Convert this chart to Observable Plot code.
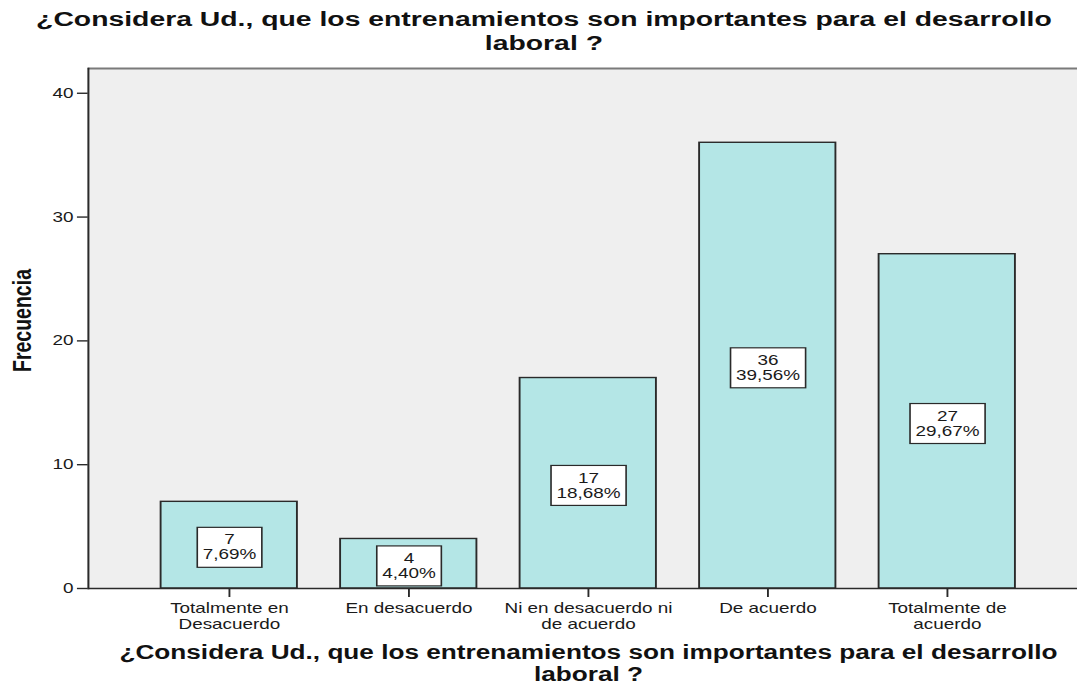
<!DOCTYPE html>
<html>
<head>
<meta charset="utf-8">
<script src="https://cdn.jsdelivr.net/npm/d3@7"></script>
<script src="https://cdn.jsdelivr.net/npm/@observablehq/plot@0.6"></script>
<style>
  html, body { margin: 0; padding: 0; background: #ffffff; }
  #chart svg { display: block; }
</style>
</head>
<body>
<div id="chart"></div>
<script>
// ---- data ----
const categories = [
  "Totalmente en\nDesacuerdo",
  "En desacuerdo",
  "Ni en desacuerdo ni\nde acuerdo",
  "De acuerdo",
  "Totalmente de\nacuerdo"
];
const counts = [7, 4, 17, 36, 27];
const percents = ["7,69%", "4,40%", "18,68%", "39,56%", "29,67%"];
const yTicks = [0, 10, 20, 30, 40];
const titleText = "¿Considera Ud., que los entrenamientos son importantes para el desarrollo\nlaboral ?";
const xTitleText = "¿Considera Ud., que los entrenamientos son importantes para el desarrollo\nlaboral ?";
const yTitleText = "Frecuencia";

const rows = categories.map((c, i) => ({cat: c, n: counts[i], pct: percents[i]}));

// The reference is horizontally stretched; draw narrower and stretch the SVG.
const W = 1077, H = 686, S = 1.35;
const W0 = Math.round(W / S);
const FONT = "'Liberation Sans', Arial, Helvetica, sans-serif";

const svg = Plot.plot({
  width: W0,
  height: H,
  marginTop: 68,
  marginBottom: 98,
  marginLeft: 65,
  marginRight: 0,
  style: {fontFamily: FONT, fontSize: "14px", color: "#1a1a1a", background: "#ffffff", overflow: "visible"},
  x: {domain: categories, range: [65, 805], paddingInner: 0.2435, paddingOuter: 0.4, align: 0.5, axis: null},
  y: {domain: [0, 42], axis: null},
  marks: [
    Plot.frame({fill: "#efefef", stroke: null}),
    Plot.ruleY([42], {stroke: "#7a7a7a", strokeWidth: 2}),
    Plot.frame({anchor: "left", stroke: "#2a2a2a", strokeWidth: 1.5}),
    Plot.barY(rows, {x: "cat", y: "n", fill: "#b4e6e6", stroke: "#2a2a2a", strokeWidth: 1.4}),
    Plot.ruleY([0], {stroke: "#2a2a2a", strokeWidth: 1.5}),
    Plot.axisY({ticks: yTicks, tickSize: 8, tickPadding: 3, label: null, fontSize: 14, stroke: "#2a2a2a", fill: "#1a1a1a", strokeWidth: 1.4}),
    Plot.axisX({tickSize: 9, tickPadding: 5, label: null, fontSize: 14, lineHeight: 1.1, stroke: "#2a2a2a", fill: "#1a1a1a", strokeWidth: 1.4}),
    Plot.text(rows, {
      x: "cat", y: d => d.n / 2,
      text: d => `${d.n}\n${d.pct}`,
      fontSize: 14, lineHeight: 1.07, lineAnchor: "middle", dy: 2, fill: "#1a1a1a"
    }),
    Plot.text([titleText], {
      frameAnchor: "top", text: d => d, textAnchor: "middle", lineAnchor: "bottom",
      dx: -29, dy: -19, fontSize: 21, fontWeight: "bold", lineHeight: 1.12, fill: "#111"
    }),
    Plot.text([xTitleText], {
      frameAnchor: "bottom", text: d => d, textAnchor: "middle", lineAnchor: "bottom",
      dx: 4, dy: 92, fontSize: 19.4, fontWeight: "bold", lineHeight: 1.12, fill: "#111"
    }),
    Plot.text([yTitleText], {
      frameAnchor: "left", text: d => d, textAnchor: "middle", lineAnchor: "middle",
      rotate: -90, dx: -49, dy: -8, fontSize: 19.5, fontWeight: "bold", fill: "#111"
    })
  ]
});

// stretch horizontally
svg.setAttribute("viewBox", `0 0 ${W0} ${H}`);
svg.setAttribute("width", W);
svg.setAttribute("height", H);
svg.setAttribute("preserveAspectRatio", "none");
svg.style.width = W + "px";
svg.style.height = H + "px";
svg.style.maxWidth = "none";
document.getElementById("chart").append(svg);

// white boxes behind the value labels
const NS = "http://www.w3.org/2000/svg";
svg.querySelectorAll("text").forEach(t => {
  if (!t.textContent.includes("%")) return;
  const b = t.getBBox();
  const r = document.createElementNS(NS, "rect");
  r.setAttribute("x", b.x - 4);
  r.setAttribute("y", b.y - 4.5);
  r.setAttribute("width", b.width + 8);
  r.setAttribute("height", b.height + 9);
  r.setAttribute("fill", "#ffffff");
  r.setAttribute("stroke", "#2a2a2a");
  r.setAttribute("stroke-width", "1.2");
  const tr = t.getAttribute("transform");
  if (tr) r.setAttribute("transform", tr);
  t.parentNode.insertBefore(r, t);
});
</script>
</body>
</html>
